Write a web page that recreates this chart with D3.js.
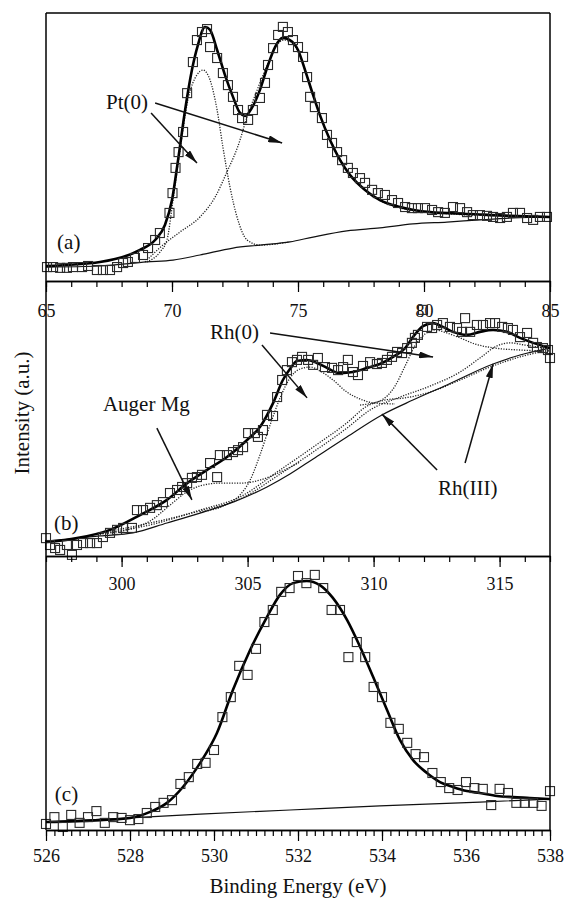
<!DOCTYPE html>
<html>
<head>
<meta charset="utf-8">
<script src="https://cdn.jsdelivr.net/npm/d3@7"></script>
<style>
  body { margin: 0; background: #fff; }
  svg text { font-family: "Liberation Serif", "DejaVu Serif", "Times New Roman", serif; fill: #111; }
</style>
</head>
<body>
<div id="chart"></div>
<script>
// ---- (a) Pt 4f ----
const ptEnergy = [65.04,65.28,65.56,65.83,66.07,66.43,66.67,67.02,67.26,67.54,67.82,68.06,68.25,68.53,68.85,69.05,69.33,69.52,69.90,70.02,
  70.14,70.26,70.44,70.60,70.83,70.99,71.19,71.39,71.51,71.79,72.02,72.22,72.42,72.62,72.78,73.02,73.21,73.49,73.69,73.81,
  74.01,74.21,74.40,74.60,74.80,75.00,75.20,75.36,75.48,75.67,75.95,76.15,76.35,76.55,76.75,76.98,77.18,77.46,77.66,77.94,
  78.17,78.45,78.73,78.97,79.25,79.52,79.76,80.04,80.32,80.56,80.83,81.15,81.43,81.71,81.94,82.22,82.50,82.74,83.02,83.29,
  83.53,83.81,84.09,84.33,84.60,84.88]
const ptCounts = [5.2,5.2,4.9,4.9,5.2,5.2,5.6,4.1,4.1,4.1,5.2,6.7,7.1,8.6,9.7,12.3,15.3,17.9,25.4,32.8,
  42.2,48.1,55.6,70.1,81.7,89.9,92.9,94.0,87.3,83.2,77.6,73.1,68.7,63.8,60.8,60.1,63.8,68.3,73.9,80.6,
  86.9,91.8,94.8,92.9,89.9,87.3,83.6,76.1,68.7,64.9,60.8,54.5,51.5,48.1,45.1,42.2,40.3,38.4,36.6,34.0,
  32.8,32.1,30.2,29.1,27.6,27.2,27.2,27.2,26.5,25.7,25.4,27.6,27.2,25.7,24.6,24.6,24.3,23.9,23.5,23.9,
  25.4,25.4,23.5,22.8,23.9,23.9]
const ptEnvelope = [[65.0,5.6],[67.14,7.1],[68.73,11.6],[69.33,15.3],[69.72,20.9],[70.0,30.2],[70.24,45.1],[70.52,63.8],
  [70.79,78.7],[71.03,88.1],[71.31,94.8],[71.51,93.7],[71.79,86.2],[72.10,76.9],[72.42,68.7],[72.70,62.7],[72.90,61.6],
  [73.17,64.6],[73.49,71.3],[73.81,80.6],[74.09,87.3],[74.40,90.7],[74.68,89.9],[75.0,86.2],[75.28,78.7],[75.56,70.5],
  [75.87,61.9],[76.27,52.6],[76.67,45.1],[77.06,39.6],[77.66,34.0],[78.25,30.2],[79.05,27.6],[80.24,25.7],[81.83,25.0],
  [83.41,24.3],[85.0,23.9]]
const ptBackground = [[65.0,5.2],[67.14,5.6],[69.0,7.1],[70.04,7.8],[71.11,9.7],[72.42,12.3],[73.49,13.4],[74.68,14.6],
  [75.6,16.4],[76.94,18.7],[78.25,19.8],[79.56,21.3],[80.91,22.0],[82.22,22.8],[83.53,23.5],[85.0,23.9]]
const pt72 = [[69.0,7.1],[69.52,10.8],[69.80,15.3],[70.04,30.2],[70.32,48.9],[70.63,67.5],[70.99,76.9],[71.23,78.7],
  [71.51,75.0],[71.79,63.8],[72.02,50.0],[72.30,35.1],[72.58,23.9],[72.98,15.3],[73.49,13.4],[74.68,14.6]]
const pt75 = [[68.93,7.1],[69.64,13.4],[70.32,18.3],[71.11,23.9],[71.71,31.3],[72.18,40.7],[72.62,50.4],[72.98,61.2],
  [73.41,72.0],[73.81,81.3],[74.13,87.7],[74.44,89.9],[74.72,89.2],[75.04,85.0],[75.32,77.6],[75.6,69.8],[75.91,61.2],
  [76.31,52.2],[76.71,44.8],[77.10,39.2],[77.70,33.6],[78.29,29.9],[79.09,27.2],[80.28,25.7],[81.87,24.6],[83.45,24.3],[85.0,23.9]]

// ---- (b) Rh 3d ----
const rhEnergy = [297.0,297.16,297.36,297.56,297.83,298.03,298.23,298.47,298.75,299.02,299.26,299.54,299.82,300.06,300.41,
  300.61,300.85,301.13,301.40,301.64,301.92,302.20,302.40,302.60,302.79,302.99,303.19,303.51,303.79,303.90,304.18,304.42,
  304.62,304.82,305.02,305.29,305.41,305.61,305.77,306.01,306.17,306.37,306.56,306.76,306.96,307.16,307.40,307.60,307.79,
  308.07,308.35,308.59,308.79,308.98,309.18,309.38,309.58,309.86,310.13,310.33,310.53,310.73,310.93,311.13,311.33,311.52,
  311.64,311.76,311.96,312.12,312.32,312.52,312.75,313.03,313.31,313.51,313.63,313.83,314.10,314.34,314.62,314.82,315.10,
  315.33,315.53,315.81,316.09,316.33,316.48,316.72,316.92,317.0]
const rhCounts = [6.5,4.0,2.9,2.2,4.0,0.4,4.0,4.7,4.7,4.7,6.9,8.4,9.5,10.2,10.2,
  16.7,16.7,17.5,18.5,19.6,22.9,24.0,25.1,26.5,28.4,28.7,29.5,33.8,28.7,36.7,36.7,37.8,
  38.5,39.6,44.7,44.7,43.3,45.8,51.3,50.9,57.8,64.0,67.6,70.5,71.3,72.4,71.3,69.5,72.0,
  68.7,68.4,67.6,68.7,71.3,66.9,65.8,69.1,70.5,69.8,70.2,71.3,72.4,74.2,73.8,75.6,77.5,
  79.3,80.4,89.5,83.3,82.9,84.0,84.7,83.3,82.9,81.5,86.5,81.5,84.0,84.0,84.7,84.7,83.3,
  82.9,82.2,79.6,81.1,77.5,76.0,75.6,74.9,72.0]
const rhEnvelope = [[297.0,5.1],[298.23,6.5],[299.54,9.5],[300.73,14.9],[301.80,20.4],[302.60,26.5],[303.39,31.3],
  [304.18,36.0],[304.98,42.2],[305.49,46.9],[306.01,55.6],[306.40,64.0],[306.68,68.0],[306.96,70.9],[307.36,71.3],
  [307.75,70.2],[308.15,68.4],[308.67,66.5],[309.18,66.9],[309.74,68.4],[310.25,69.8],[310.77,72.4],[311.25,75.6],
  [311.56,79.6],[311.96,83.6],[312.36,84.7],[312.75,83.3],[313.15,81.5],[313.71,80.4],[314.22,81.5],[314.74,82.2],
  [315.29,81.5],[315.81,79.3],[316.33,77.5],[317.0,75.6]]
const rhBackground = [[297.0,5.1],[299.14,7.3],[300.45,8.4],[301.80,12.0],[303.11,15.6],[304.42,19.6],[305.77,25.1],
  [306.68,29.8],[307.60,35.3],[308.94,43.3],[310.33,51.3],[311.56,56.7],[312.91,62.2],[314.74,69.8],[315.81,73.1],[317.0,75.6]]
const augerMg = [[299.14,8.0],[300.33,9.8],[301.13,12.7],[301.92,18.5],[302.52,22.9],[303.11,25.5],[303.90,26.5],
  [304.70,26.5],[305.49,27.6],[306.29,30.5],[307.08,34.2]]
const rh3Low = [[299.14,8.0],[301.13,11.3],[303.11,16.7],[304.70,21.5],[306.29,31.3],[307.60,39.6],[308.94,48.4],
  [309.74,54.5],[310.45,56.7],[311.25,57.5],[312.24,59.6],[313.43,64.0],[314.62,68.7],[315.81,72.4],[317.0,74.9]]
const rh3High = [[299.14,8.4],[301.13,12.0],[303.11,16.4],[304.70,20.7],[306.29,29.8],[307.60,37.8],[308.94,46.5],
  [309.86,53.1],[311.05,57.8],[312.24,61.8],[313.43,66.9],[314.22,72.0],[314.90,76.4],[315.41,77.5],[316.01,76.7],[317.0,75.3]]
const rh0Low = [[303.11,16.0],[304.10,18.5],[304.70,22.2],[305.10,27.6],[305.49,36.7],[305.89,47.6],[306.29,57.5],
  [306.68,64.7],[307.08,68.0],[307.48,68.7],[307.87,67.3],[308.39,64.0],[308.94,59.6],[309.46,57.1],[310.06,55.6],[310.85,55.3]]
const rh0High = [[309.46,54.9],[310.25,56.4],[310.85,61.8],[311.25,69.1],[311.64,76.4],[312.04,80.7],[312.44,82.2],
  [312.91,81.1],[313.43,79.3],[314.02,77.1],[314.82,75.6],[315.81,74.9],[317.0,74.5]]

// ---- (c) O 1s ----
const oEnergy = [526.0,526.2,526.4,526.6,526.8,527.0,527.2,527.4,527.6,527.8,528.0,528.2,528.4,528.6,528.8,529.0,529.2,
  529.4,529.6,529.8,530.0,530.2,530.4,530.6,530.8,531.0,531.2,531.4,531.6,531.8,532.0,532.2,532.4,532.6,532.8,533.0,
  533.2,533.4,533.6,533.8,534.0,534.2,534.4,534.6,534.8,535.0,535.2,535.4,535.6,535.8,536.0,536.2,536.4,536.6,536.8,
  537.0,537.2,537.4,537.6,537.8,538.0]
const oCounts = [2.2,4.7,1.1,5.5,2.6,4.7,6.9,2.6,4.7,4.4,3.6,4.0,6.2,8.4,9.9,10.9,16.8,
  19.3,24.1,24.5,29.2,41.2,48.5,59.9,56.6,66.1,75.9,80.3,86.9,88.3,92.7,90.1,93.1,88.3,80.3,80.3,
  63.1,68.6,63.1,52.2,48.5,39.1,36.9,31.8,27.7,26.6,20.8,17.5,15.3,14.6,17.5,15.3,15.0,9.1,15.0,
  13.5,9.9,9.9,9.9,8.8,14.2]
const oEnvelope = [[526.0,2.9],[527.29,3.6],[528.0,4.4],[528.48,6.6],[528.88,9.9],[529.26,15.7],[529.67,24.5],
  [530.07,35.4],[530.45,51.1],[530.86,65.7],[531.26,77.7],[531.57,85.8],[531.88,90.1],[532.21,90.9],[532.52,89.4],
  [532.83,84.7],[533.17,76.6],[533.48,66.8],[533.79,55.8],[534.12,43.8],[534.43,32.8],[534.74,25.5],[535.07,20.8],
  [535.38,17.5],[535.69,15.7],[536.02,14.2],[536.33,13.5],[536.74,12.4],[537.12,12.0],[537.52,11.7],[538.0,11.3]]
const oBackground = [[526.0,2.9],[528.0,4.4],[529.67,5.8],[531.81,7.3],[533.95,8.8],[536.33,10.2],[538.0,11.3]]

// tick labels
const ptTicks = [65, 70, 75, 80, 85]
const rhTicks = [300, 305, 310, 315]
const oTicks = [526, 528, 530, 532, 534, 536, 538]

const W = 570, H = 900
const left = 46, right = 550
const FONT = '"Liberation Serif", "DejaVu Serif", "Times New Roman", serif'

const svg = d3.select("#chart").append("svg")
    .attr("width", W)
    .attr("height", H)
    .attr("font-family", FONT)

svg.append("defs").append("marker")
    .attr("id", "head")
    .attr("viewBox", "0 0 10 10")
    .attr("refX", 10).attr("refY", 5)
    .attr("markerWidth", 14).attr("markerHeight", 7)
    .attr("markerUnits", "userSpaceOnUse")
    .attr("preserveAspectRatio", "none")
    .attr("orient", "auto")
  .append("path")
    .attr("d", "M0,0 L10,5 L0,10 Z")
    .attr("fill", "#111")

const panels = [
  { top: 13, bottom: 281, domain: [65, 85], ticks: ptTicks, minor: 1, pad: 12,
    energy: ptEnergy, counts: ptCounts, fit: ptEnvelope, bg: ptBackground, parts: [pt72, pt75],
    tag: "(a)", tagAt: [65.44, 11.9],
    notes: [ { text: "Pt(0)", at: [67.38, 64.2], arrows: [ [[69.17, 62.7], [70.99, 44.0]], [[69.33, 66.4], [74.37, 51.5]] ] } ] },
  { top: 281, bottom: 556, domain: [297, 317], ticks: rhTicks, minor: 1, pad: 10,
    energy: rhEnergy, counts: rhCounts, fit: rhEnvelope, bg: rhBackground, parts: [augerMg, rh3Low, rh3High, rh0Low, rh0High],
    tag: "(b)", tagAt: [297.32, 9.5],
    notes: [
      { text: "Rh(0)", at: [303.51, 78.9], arrows: [ [[305.57, 76.7], [307.36, 57.5]], [[305.89, 81.1], [312.36, 72.4]] ] },
      { text: "Auger Mg", at: [299.26, 52.7], arrows: [ [[301.40, 46.5], [302.79, 20.4]] ] },
      { text: "Rh(III)", at: [312.56, 22.2], arrows: [ [[312.52, 31.3], [310.33, 51.6]], [[313.63, 33.8], [314.74, 69.8]] ] } ] },
  { top: 556, bottom: 830, domain: [526, 538], ticks: oTicks, minor: 0.2, pad: 8,
    energy: oEnergy, counts: oCounts, fit: oEnvelope, bg: oBackground, parts: [],
    tag: "(c)", tagAt: [526.21, 10.6], notes: [] }
]

panels.forEach(p => {
    const x = d3.scaleLinear().domain(p.domain).range([left, right])
    const y = d3.scaleLinear().domain([0, 100]).range([p.bottom, p.top])
    const g = svg.append("g")
    const line = d3.line().x(d => x(d[0])).y(d => y(d[1])).curve(d3.curveMonotoneX)

    // component peaks (dotted)
    p.parts.forEach(part => {
        g.append("path").attr("d", line(part))
            .attr("fill", "none").attr("stroke", "#222")
            .attr("stroke-width", 1.3).attr("stroke-dasharray", "1.2,1.4")
    })
    // background
    g.append("path").attr("d", line(p.bg))
        .attr("fill", "none").attr("stroke", "#111").attr("stroke-width", 1.2)
    // fitted envelope
    g.append("path").attr("d", line(p.fit))
        .attr("fill", "none").attr("stroke", "#000").attr("stroke-width", 2.6)

    // measured points (open squares)
    g.selectAll("rect.pt").data(p.energy).enter().append("rect")
        .attr("class", "pt")
        .attr("x", (d, i) => x(d) - 4.5)
        .attr("y", (d, i) => y(p.counts[i]) - 4.5)
        .attr("width", 9).attr("height", 9)
        .attr("fill", "none").attr("stroke", "#2a2a2a").attr("stroke-width", 1.1)

    // bottom axis: minor then major ticks
    const minorVals = d3.range(p.domain[0], p.domain[1] + 1e-6, p.minor)
    g.append("g").attr("transform", `translate(0,${p.bottom})`)
        .call(d3.axisBottom(x).tickValues(minorVals).tickSize(6).tickSizeOuter(0).tickFormat(""))
    const ax = g.append("g").attr("transform", `translate(0,${p.bottom})`)
        .call(d3.axisBottom(x).tickValues(p.ticks).tickSize(11).tickSizeOuter(0).tickPadding(p.pad))
    ax.attr("font-family", FONT)
    ax.selectAll("text").attr("font-size", 18).attr("fill", "#111")
    g.selectAll(".domain").attr("stroke", "#000").attr("stroke-width", 1.5)
    g.selectAll(".tick line").attr("stroke", "#000").attr("stroke-width", 1.2)

    // panel tag
    g.append("text").attr("x", x(p.tagAt[0])).attr("y", y(p.tagAt[1]))
        .attr("font-size", 21).text(p.tag)

    // annotations
    p.notes.forEach(n => {
        g.append("text").attr("x", x(n.at[0])).attr("y", y(n.at[1]))
            .attr("font-size", 21).text(n.text)
        n.arrows.forEach(a => {
            g.append("line")
                .attr("x1", x(a[0][0])).attr("y1", y(a[0][1]))
                .attr("x2", x(a[1][0])).attr("y2", y(a[1][1]))
                .attr("stroke", "#111").attr("stroke-width", 1.5)
                .attr("marker-end", "url(#head)")
        })
    })
})

// frame
svg.append("line").attr("x1", left).attr("x2", right).attr("y1", 13).attr("y2", 13)
    .attr("stroke", "#000").attr("stroke-width", 1.5)
svg.append("line").attr("x1", left).attr("x2", left).attr("y1", 13).attr("y2", 830)
    .attr("stroke", "#000").attr("stroke-width", 1.5)
svg.append("line").attr("x1", right).attr("x2", right).attr("y1", 13).attr("y2", 830)
    .attr("stroke", "#000").attr("stroke-width", 1.5)

// axis titles
svg.append("text")
    .attr("x", (left + right) / 2).attr("y", 893)
    .attr("text-anchor", "middle").attr("font-size", 21)
    .text("Binding Energy (eV)")
svg.append("text")
    .attr("transform", "translate(29,413) rotate(-90)")
    .attr("text-anchor", "middle").attr("font-size", 21)
    .text("Intensity (a.u.)")
</script>
</body>
</html>
